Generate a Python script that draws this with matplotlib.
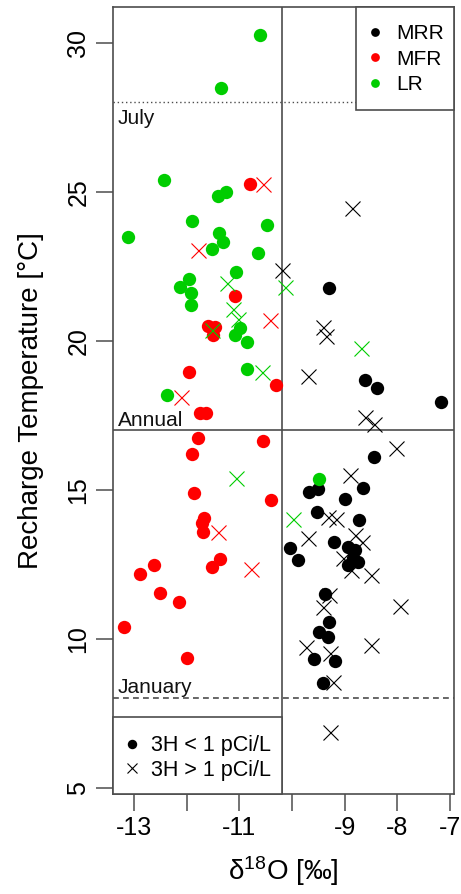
import matplotlib
matplotlib.use("Agg")
import matplotlib.pyplot as plt
from matplotlib.lines import Line2D
from matplotlib.patches import Rectangle

plt.rcParams['font.family'] = ['Liberation Sans', 'DejaVu Sans']
plt.rcParams['mathtext.fontset'] = 'custom'
plt.rcParams['mathtext.rm'] = 'Liberation Sans'
plt.rcParams['mathtext.it'] = 'Liberation Sans'
plt.rcParams['mathtext.default'] = 'regular'

# ---- data: delta18O (permil) and recharge temperature (deg C) ----
mrr_low_x = [-9.30, -8.62, -8.39, -7.17, -8.44, -8.65, -9.68, -9.50, -8.99, -9.53,
             -8.73, -9.21, -8.94, -8.80, -10.04, -9.88, -8.84, -8.74, -8.93, -9.37,
             -9.29, -9.48, -9.31, -9.58, -9.18, -9.41]
mrr_low_y = [21.78, 18.68, 18.40, 17.94, 16.09, 15.05, 14.91, 15.01, 14.68, 14.24,
             13.98, 13.23, 13.09, 12.98, 13.03, 12.64, 12.70, 12.58, 12.47, 11.49,
             10.57, 10.23, 10.05, 9.31, 9.25, 8.50]
mrr_high_x = [-8.86, -10.20, -9.41, -9.36, -9.70, -8.61, -8.44, -8.03, -8.90, -9.32,
              -9.17, -9.70, -8.80, -8.67, -9.03, -8.87, -8.50, -9.29, -9.41, -7.95,
              -9.74, -8.49, -9.28, -9.23, -9.27]
mrr_high_y = [24.46, 22.37, 20.47, 20.17, 18.83, 17.45, 17.20, 16.39, 15.49, 14.09,
              14.01, 13.37, 13.48, 13.26, 12.70, 12.31, 12.14, 11.47, 11.07, 11.10,
              9.73, 9.79, 9.51, 8.56, 6.87]

mfr_low_x = [-10.79, -11.09, -11.59, -11.47, -11.51, -11.95, -10.31, -11.75, -11.64, -11.78,
             -10.56, -11.91, -11.86, -10.40, -11.67, -11.72, -11.70, -11.37, -11.52, -12.62,
             -12.90, -12.52, -12.14, -13.19, -12.00]
mfr_low_y = [25.26, 21.50, 20.49, 20.47, 20.19, 18.96, 18.50, 17.58, 17.58, 16.72,
             16.64, 16.19, 14.88, 14.64, 14.04, 13.87, 13.57, 12.67, 12.42, 12.46,
             12.18, 11.54, 11.24, 10.40, 9.36]
mfr_high_x = [-10.56, -11.78, -10.41, -12.11, -11.41, -10.78]
mfr_high_y = [25.26, 23.04, 20.69, 18.12, 13.59, 12.34]

lr_low_x = [-10.60, -11.36, -12.43, -11.26, -11.40, -11.91, -10.47, -13.11, -11.38, -11.32,
            -11.53, -10.65, -11.07, -11.95, -12.13, -11.92, -11.93, -10.99, -11.09, -10.85,
            -10.86, -12.37, -9.49]
lr_low_y = [30.25, 28.47, 25.39, 25.00, 24.86, 24.03, 23.87, 23.47, 23.60, 23.32,
            23.07, 22.95, 22.32, 22.06, 21.79, 21.59, 21.20, 20.42, 20.19, 19.97,
            19.04, 18.18, 15.36]
lr_high_x = [-11.23, -10.13, -11.13, -11.02, -11.53, -8.68, -10.58, -11.07, -9.98]
lr_high_y = [21.95, 21.81, 21.05, 20.72, 20.36, 19.74, 18.94, 15.40, 14.01]

ref_temps = [28, 17, 8]
ref_names = ['July', 'Annual', 'January']
divide_o18 = -10.2

x_ticks = [-13, -12, -11, -10, -9, -8, -7]
x_ticklabels = ['-13', '', '-11', '', '-9', '-8', '-7']
y_ticks = [5, 10, 15, 20, 25, 30]

BLACK = '#000000'
RED = '#FF0000'
GREEN = '#00CD00'
GRID = '#4D4D4D'

fig = plt.figure(figsize=(4.61, 8.94), dpi=100)
ax = fig.add_axes([0.2445, 0.1119, 0.7403, 0.8806])
ax.set_xlim(-13.41, -6.92)
ax.set_ylim(4.79, 31.21)

# reference lines
ax.axvline(divide_o18, color=GRID, lw=1.2, zorder=1)
ax.axhline(ref_temps[0], color=GRID, lw=1.0, ls=(0, (1, 2)), zorder=1)
ax.axhline(ref_temps[1], color=GRID, lw=1.2, zorder=1)
ax.axhline(ref_temps[2], color=GRID, lw=1.2, ls=(0, (3.5, 2.5)), zorder=1)

ms_c = 9.6
ms_x = 10.8
ax.plot(mrr_high_x, mrr_high_y, ls='none', marker='x', ms=ms_x, mew=0.8, color=BLACK, zorder=3)
ax.plot(mrr_low_x, mrr_low_y, ls='none', marker='o', ms=ms_c, mew=0, color=BLACK, zorder=3)
ax.plot(mfr_low_x, mfr_low_y, ls='none', marker='o', ms=ms_c, mew=0, color=RED, zorder=3)
ax.plot(mfr_high_x, mfr_high_y, ls='none', marker='x', ms=ms_x, mew=0.8, color=RED, zorder=3)
ax.plot(lr_low_x, lr_low_y, ls='none', marker='o', ms=ms_c, mew=0, color=GREEN, zorder=3)
ax.plot(lr_high_x, lr_high_y, ls='none', marker='x', ms=ms_x, mew=0.8, color=GREEN, zorder=3)

label_y = [27.27, 17.14, 8.18]
for name, yy in zip(ref_names, label_y):
    ax.text(-13.31, yy, name, fontsize=15, va='baseline', ha='left', color='#111111', zorder=4)

# legend boxes
ax.add_patch(Rectangle((0.713, 0.8688), 0.287, 0.1312, transform=ax.transAxes,
                       fc='white', ec=GRID, lw=1.2, zorder=4, clip_on=False))
ax.add_patch(Rectangle((0.0, 0.0), 0.4952, 0.0982, transform=ax.transAxes,
                       fc='white', ec=GRID, lw=1.2, zorder=4, clip_on=False))

h1 = [Line2D([], [], ls='none', marker='o', ms=6.3, mew=0, color=c) for c in (BLACK, RED, GREEN)]
leg1 = ax.legend(h1, ['MRR', 'MFR', 'LR'], loc='center left', bbox_to_anchor=(0.7533, 0.9333),
                 borderaxespad=0, borderpad=0, fontsize=15, frameon=False,
                 handlelength=0.5, handletextpad=0.76, labelspacing=0.3)
leg1.set_zorder(5)
ax.add_artist(leg1)

h2 = [Line2D([], [], ls='none', marker='o', ms=6.8, mew=0, color=BLACK),
      Line2D([], [], ls='none', marker='x', ms=7.5, mew=0.8, color=BLACK)]
leg2 = ax.legend(h2, ['3H < 1 pCi/L', '3H > 1 pCi/L'], loc='center left',
                 bbox_to_anchor=(0.0368, 0.0457), borderaxespad=0, borderpad=0,
                 fontsize=15.5, frameon=False, handlelength=0.6, handletextpad=0.58,
                 labelspacing=0.15)
leg2.set_zorder(5)

ax.set_xticks(x_ticks)
ax.set_xticklabels(x_ticklabels)
ax.set_yticks(y_ticks)
ax.set_yticklabels([str(v) for v in y_ticks], rotation=90, va='center')
ax.tick_params(axis='both', direction='out', length=12, width=1.1, color=GRID,
               labelsize=18, pad=4)
for s in ax.spines.values():
    s.set_color(GRID)
    s.set_linewidth(1.2)

ax.set_xlabel('δ$^{18}$O [‰]', fontsize=20, labelpad=10)
ax.set_ylabel('Recharge Temperature [°C]', fontsize=20)
ax.yaxis.set_label_coords(-0.20, 0.5)

fig.savefig('out.png', dpi=100)
